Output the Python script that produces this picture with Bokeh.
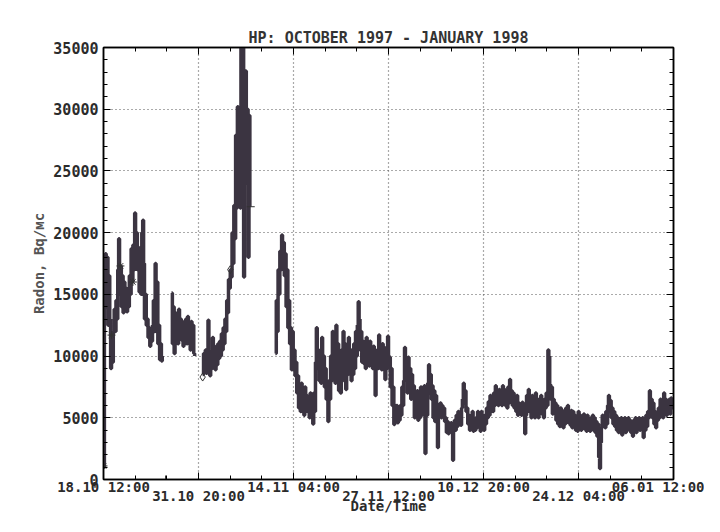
from bokeh.plotting import figure
from bokeh.models import Range1d, FixedTicker, LinearAxis
from bokeh.embed import file_html
from bokeh.resources import INLINE

# ---- data (hours since 18.10.1997 12:00, Radon Bq/m3) ----
tick_hours = [0, 320, 640, 960, 1280, 1600, 1920]
tick_labels = ["18.10 12:00", "31.10 20:00", "14.11 04:00", "27.11 12:00",
               "10.12 20:00", "24.12 04:00", "06.01 12:00"]
y_ticks = [0, 5000, 10000, 15000, 20000, 25000, 30000, 35000]

sample_step_hours = 3
segment_starts = [0, 229, 334, 579]

seg_a = [1000, 17500, 18300, 14000, 18000, 12500, 16500, 13000, 9000, 11700,
         9500, 12000, 13800, 12000, 14500, 13000, 17000, 19500, 15000, 17300,
         14000, 16500, 13500, 16000, 14300, 15500, 13600, 15000, 14000, 16500,
         15000, 18700, 16000, 19000, 17000, 21600, 18500, 20000, 17000, 18800,
         15200, 17500, 15000, 20000, 21000, 17500, 13000, 15000, 12500, 13000,
         11500, 12300, 10800, 12000, 11200, 12500, 14500, 12000, 17500, 13500,
         16000, 11000, 12500, 9700, 11000, 9600, 10000]

seg_b = [15100, 11000, 14000, 10200, 13500, 11500, 12800, 11000, 13800, 12000,
         13000, 11300, 12800, 10800, 12500, 11500, 13000, 11000, 13200, 12000,
         12500, 10500, 12800, 11000, 12500, 10200, 10000]

seg_c = [8500, 10200, 9000, 10500, 8600, 10000, 12900, 9500, 8400, 10300,
         9000, 11500, 9500, 10800, 8900, 10000, 9300, 11000, 9800, 11200,
         10000, 11800, 10500, 12300, 11000, 13000, 12000, 14500, 13500, 16200,
         15500, 17000, 16400, 20000, 17500, 22200, 19500, 27900, 22000, 30200,
         24000, 30000, 22000, 36000, 26000, 36000, 16400, 28000, 33100, 24000,
         30000, 18000, 29500, 22100, 22100]

seg_d = [10200, 14500, 12000, 17000, 15000, 18500, 17000, 19800, 18500, 19200,
         16500, 18300, 14000, 17000, 12300, 14500, 11000, 12300, 8900, 12000,
         10000, 10500, 8400, 9500, 7000, 8400, 5800, 7200, 5500, 7800,
         6000, 7000, 5200, 7500, 6000, 6800, 5500, 6500, 5000, 7000,
         5200, 6800, 4500, 7000, 5500, 9500, 12300, 9000, 10500, 8000,
         10000, 7800, 11500, 9000, 10000, 7500, 9000, 6500, 7800, 4700,
         8000, 6500, 10000, 8000, 12000, 9500, 11000, 7800, 12500, 9000,
         11000, 7200, 9500, 7000, 10500, 8000, 12000, 9500, 11000, 7300,
         10000, 8500, 11500, 9000, 10500, 8000, 10500, 8500, 11000, 9000,
         12000, 10000, 12500, 14400, 13000, 10500, 12000, 9500, 11200, 9400,
         11000, 9000, 11500, 9500, 10800, 9200, 11200, 9600, 10500, 9000,
         10800, 9300, 6800, 9000, 10500, 9000, 11700, 9500, 10500, 8900,
         11000, 9200, 10700, 8100, 10000, 9000, 11600, 10000, 9900, 7500,
         9000, 6000, 7500, 4450, 6000, 5000, 6000, 4600, 5800, 4800,
         6000, 5200, 7500, 6000, 8000, 10700, 8500, 9800, 7000, 9900,
         8000, 9000, 6500, 8500, 6800, 7600, 5000, 7000, 5500, 7200,
         4800, 6500, 5000, 7500, 5200, 7000, 5500, 7600, 2100, 6000,
         5200, 7800, 9300, 7000, 8500, 6500, 7600, 5000, 7200, 4700,
         6800, 5200, 2600, 6000, 5200, 6200, 5000, 6000, 5200, 5800,
         4700, 5000, 3800, 4700, 3700, 4500, 3900, 4600, 3800, 1560,
         4200, 4800, 4000, 5200, 4300, 5500, 4600, 5000, 4400, 5800,
         6500, 7800, 6200, 7200, 5500, 5800, 4500, 5200, 4000, 5000,
         4200, 5500, 3900, 4800, 4000, 5000, 4200, 5500, 4300, 4800,
         3900, 5500, 4200, 5000, 4000, 5200, 4500, 5800, 5000, 6300,
         5200, 6800, 5800, 6500, 5500, 7000, 6000, 7600, 6500, 7000,
         6000, 7300, 6200, 7000, 6000, 7600, 6300, 7300, 6000, 7000,
         5800, 7500, 6200, 8100, 6500, 7200, 6000, 7000, 5800, 6500,
         5500, 6800, 5200, 6200, 5500, 6000, 5200, 6250, 5300, 6000,
         3700, 5200, 6800, 5500, 7300, 5500, 6500, 5000, 6800, 5200,
         6200, 5000, 7000, 5500, 6500, 5000, 6500, 5500, 6800, 5300,
         6000, 5000, 6500, 5800, 7000, 6000, 10500, 10000, 7700, 6500,
         7500, 5300, 6500, 5500, 6200, 4800, 6000, 4500, 5500, 4300,
         5800, 4500, 5500, 4200, 5600, 4500, 5800, 4800, 6000, 4600,
         5500, 4400, 5600, 4200, 5500, 4500, 5200, 4000, 5000, 3900,
         5500, 4300, 5200, 4000, 5000, 4200, 5300, 4100, 5000, 3900,
         5200, 4500, 4800, 3900, 5000, 4200, 5200, 4000, 5000, 3800,
         4700, 3500, 4500, 1800, 900, 3000, 4200, 5200, 4300, 5000,
         4200, 5500, 4500, 6000, 6800, 5500, 6400, 5000, 5800, 4500,
         5500, 4300, 5200, 4000, 5000, 3800, 4800, 4200, 5000, 3600,
         4600, 4000, 5000, 3800, 4700, 4200, 5000, 4000, 4800, 3800,
         4500, 3500, 4800, 4000, 5000, 3800, 4700, 4200, 5000, 4000,
         4800, 4300, 5000, 3400, 4600, 4000, 5200, 4300, 5500, 5000,
         7200, 6000, 6500, 5000, 6200, 4500, 5500, 4200, 5000, 4800,
         5800, 5000, 6500, 5200, 6000, 5000, 7000, 5800, 6500, 5200,
         6200, 5400, 6500, 5300, 6600, 5800, 6300]

segments = [seg_a, seg_b, seg_c, seg_d]

marker_hours = [0, 27, 57, 99, 334, 427, 496, 209, 320]
marker_values = [1100, 11700, 17300, 16000, 8300, 17000, 22100, 0, 0]
marker_kinds = ["asterisk", "asterisk", "asterisk", "asterisk", "diamond",
                "diamond", "dash", "cross", "cross"]

# ---- styling ----
FONT = "DejaVu Sans Mono"
INK = "#2b2b2b"
LINE = "#3b3441"

p = figure(width=704, height=516, x_range=Range1d(0, 1920), y_range=Range1d(0, 35000),
           output_backend="svg", toolbar_location=None,
           min_border_left=103, min_border_right=31, min_border_top=47, min_border_bottom=0,
           background_fill_color="white", border_fill_color="white")

p.title.text = "HP: OCTOBER 1997 - JANUARY 1998"
p.title.align = "center"
p.title.text_font = FONT
p.title.text_font_size = "15px"
p.title.text_font_style = "bold"
p.title.text_color = "#333333"
p.title.standoff = 2

p.outline_line_color = "black"
p.outline_line_width = 1.5

for start, vals in zip(segment_starts, segments):
    xs = [start + sample_step_hours * i for i in range(len(vals))]
    p.step(xs, vals, mode="after", line_color=LINE, line_width=3.5)

p.scatter(marker_hours, marker_values, marker=marker_kinds, size=8,
          line_color="#333333", fill_color=None, line_width=1)

minor_x = []
for a, b in zip(tick_hours[:-1], tick_hours[1:]):
    minor_x += [a + (b - a) / 3, a + 2 * (b - a) / 3]
minor_y = []
for a, b in zip(y_ticks[:-1], y_ticks[1:]):
    minor_y += [a + (b - a) * k / 5 for k in range(1, 5)]

xt = FixedTicker(ticks=tick_hours, minor_ticks=minor_x)
yt = FixedTicker(ticks=y_ticks, minor_ticks=minor_y)


def style_axis(ax, size="15px"):
    ax.axis_line_color = "black"
    ax.axis_line_width = 1.5
    ax.major_tick_in = 7
    ax.major_tick_out = 0
    ax.minor_tick_in = 4
    ax.minor_tick_out = 0
    ax.major_tick_line_color = "black"
    ax.minor_tick_line_color = "black"
    ax.major_label_text_font = FONT
    ax.major_label_text_font_size = size
    ax.major_label_text_font_style = "bold"
    ax.major_label_text_color = INK
    ax.axis_label_text_font = FONT
    ax.axis_label_text_font_style = "bold"


def hide_labels(ax):
    ax.major_label_text_color = None
    ax.major_label_text_font_size = "0px"
    ax.major_label_standoff = 0


def labels_only(ax):
    ax.axis_line_color = None
    ax.major_tick_line_color = None
    ax.minor_tick_line_color = None
    ax.major_tick_in = 0
    ax.minor_tick_in = 0


# bottom frame axis: ticks only
xa = p.xaxis[0]
xa.ticker = xt
style_axis(xa)
hide_labels(xa)

# first row of date labels
even_hours = tick_hours[0::2]
even_labels = tick_labels[0::2]
xr1 = LinearAxis(ticker=FixedTicker(ticks=even_hours, minor_ticks=[]))
style_axis(xr1, "14px")
labels_only(xr1)
xr1.major_label_overrides = dict(zip(even_hours, even_labels))
xr1.major_label_standoff = -1
p.add_layout(xr1, "below")

# second (staggered) row of date labels + axis title
odd_hours = tick_hours[1::2]
odd_labels = tick_labels[1::2]
xr2 = LinearAxis(ticker=FixedTicker(ticks=odd_hours, minor_ticks=[]))
style_axis(xr2, "14px")
labels_only(xr2)
xr2.major_label_overrides = dict(zip(odd_hours, odd_labels))
xr2.major_label_standoff = -10
xr2.axis_label = "Date/Time"
xr2.axis_label_standoff = -9
xr2.axis_label_text_font_size = "14px"
xr2.axis_label_text_color = INK
p.add_layout(xr2, "below")

ya = p.yaxis[0]
ya.ticker = yt
style_axis(ya)
ya.major_label_standoff = 5
ya.axis_label = "Radon, Bq/мс"
ya.axis_label_text_font_size = "14px"
ya.axis_label_text_color = "#555555"
ya.axis_label_standoff = 3

# frame ticks on the top and right sides
top = LinearAxis(ticker=xt)
style_axis(top)
hide_labels(top)
p.add_layout(top, "above")

right = LinearAxis(ticker=yt)
style_axis(right)
hide_labels(right)
p.add_layout(right, "right")

p.xgrid.ticker = xt
p.ygrid.ticker = yt
for g in (p.xgrid, p.ygrid):
    g.grid_line_color = "#555555"
    g.grid_line_dash = "1 3"
    g.grid_line_width = 1.2

open("out.html", "w").write(file_html(p, INLINE))
